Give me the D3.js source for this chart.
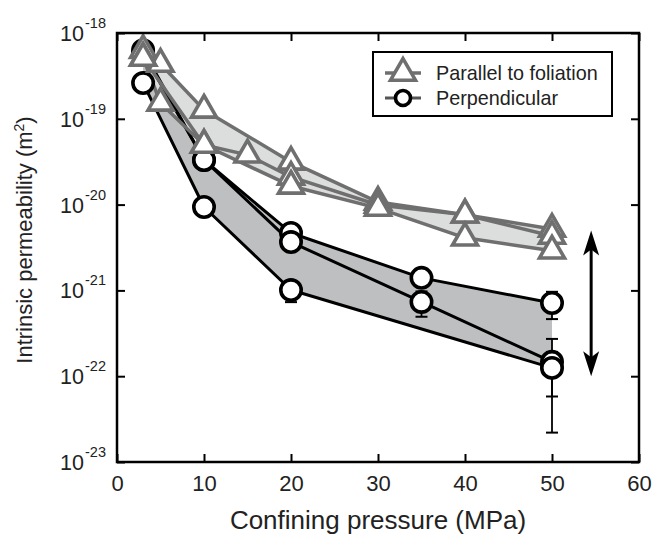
<!DOCTYPE html>
<html><head><meta charset="utf-8">
<script src="https://cdn.jsdelivr.net/npm/d3@7"></script>
<style>body{margin:0;background:#fff}text{font-family:"Liberation Sans",Arial,sans-serif}</style>
</head><body><svg id="c" width="656" height="536"></svg>
<script>
// Parallel to foliation (three runs)
const parA_x = [3, 5, 10, 20, 30, 40, 50];
const parA_k = [6.3e-19, 4.35e-19, 1.27e-19, 3.14e-20, 1.07e-20, 7.6e-21, 5.2e-21];
const parB_x = [3, 10, 15, 20, 30, 40, 50];
const parB_k = [5.1e-19, 4.95e-20, 3.8e-20, 2.1e-20, 9.9e-21, 7.6e-21, 4.3e-21];
const parC_x = [3, 5, 10, 20, 30, 40, 50];
const parC_k = [5.1e-19, 1.53e-19, 4.95e-20, 1.65e-20, 9.1e-21, 4.1e-21, 2.9e-21];
// Perpendicular (three runs)
const perA_x = [3, 10, 20, 35, 50];
const perA_k = [6.3e-19, 3.31e-20, 4.67e-21, 1.40e-21, 7.13e-22];
const perB_x = [3, 10, 20, 35, 50];
const perB_k = [5.85e-19, 3.31e-20, 3.66e-21, 7.33e-22, 1.47e-22];
const perC_x = [3, 10, 20, 50];
const perC_k = [2.61e-19, 9.38e-21, 1.01e-21, 1.25e-22];
// error bars (value ± sigma, linear)
const err_x = [50, 35, 50, 50, 20];
const err_k = [7.13e-22, 7.33e-22, 1.47e-22, 1.25e-22, 1.01e-21];
const err_s = [2.5e-22, 2.4e-22, 1.25e-22, 6.7e-23, 2.8e-22];
// ticks
const xTicks = [0, 10, 20, 30, 40, 50, 60];
const yExp = [-18, -19, -20, -21, -22, -23];
// arrow (range indicator)
const arrow_x = 54.5, arrow_k = [5.0e-21, 1.0e-22];

const svg = d3.select("#c");
const L = 117, R = 639, T = 33, B = 462;
const x = d3.scaleLinear().domain([0, 60]).range([L, R]);
const y = d3.scaleLog().domain([1e-23, 1e-18]).range([B, T]);

const zip = (xs, ks) => xs.map((v, i) => [v, ks[i]]);
const line = d3.line().x(d => x(d[0])).y(d => y(d[1]));
const parA = zip(parA_x, parA_k), parB = zip(parB_x, parB_k), parC = zip(parC_x, parC_k);
const perA = zip(perA_x, perA_k), perB = zip(perB_x, perB_k), perC = zip(perC_x, perC_k);

// fills
const band = (up, lo) => line(up.concat(lo.slice().reverse())) + "Z";
svg.append("path").attr("d", band(perA, perC)).attr("fill", "#bebfc0");
svg.append("path").attr("d", band(parA, parC)).attr("fill", "#dcdddd");

const gray = "#6f6f6f";
// perpendicular lines
[perA, perB, perC].forEach(s => svg.append("path").attr("d", line(s))
  .attr("fill", "none").attr("stroke", "#000").attr("stroke-width", 3).attr("stroke-linejoin", "round"));
// error bars
err_x.forEach((xv, i) => {
  const hi = y(err_k[i] + err_s[i]), lo = y(err_k[i] - err_s[i]), cx = x(xv);
  svg.append("line").attr("x1", cx).attr("x2", cx).attr("y1", hi).attr("y2", lo).attr("stroke", "#000").attr("stroke-width", 1.8);
  [hi, lo].forEach(yy => svg.append("line").attr("x1", cx - 6).attr("x2", cx + 6).attr("y1", yy).attr("y2", yy).attr("stroke", "#000").attr("stroke-width", 2));
});
// parallel lines
[parA, parB, parC].forEach(s => svg.append("path").attr("d", line(s))
  .attr("fill", "none").attr("stroke", gray).attr("stroke-width", 3.5).attr("stroke-linejoin", "round"));
// circle markers
[perA, perB, perC].forEach(s => s.forEach(d => svg.append("circle")
  .attr("cx", x(d[0])).attr("cy", y(d[1])).attr("r", 10.2)
  .attr("fill", "#fff").attr("stroke", "#000").attr("stroke-width", 3.6)));
// triangle markers
const tri = d3.symbol().type(d3.symbolTriangle).size(270);
[parA, parB, parC].forEach(s => s.forEach(d => svg.append("path").attr("d", tri())
  .attr("transform", `translate(${x(d[0])},${y(d[1])})`)
  .attr("fill", "#fff").attr("stroke", gray).attr("stroke-width", 3.6)));

// arrow
const ax = x(arrow_x), ay1 = y(arrow_k[0]), ay2 = y(arrow_k[1]);
svg.append("line").attr("x1", ax).attr("x2", ax).attr("y1", ay1 + 15).attr("y2", ay2 - 15).attr("stroke", "#000").attr("stroke-width", 3);
svg.append("path").attr("d", `M${ax},${ay1} L${ax - 8},${ay1 + 25} L${ax},${ay1 + 19} L${ax + 8},${ay1 + 25}Z`).attr("fill", "#000");
svg.append("path").attr("d", `M${ax},${ay2} L${ax - 8},${ay2 - 25} L${ax},${ay2 - 19} L${ax + 8},${ay2 - 25}Z`).attr("fill", "#000");

// frame & ticks
const tk = 8;
svg.append("g").attr("transform", `translate(0,${B})`)
  .call(d3.axisBottom(x).tickValues(xTicks).tickSize(-tk).tickPadding(13).tickFormat(d3.format("d")))
  .call(g => g.select(".domain").remove())
  .call(g => g.selectAll("line").attr("stroke-width", 2))
  .call(g => g.selectAll("text").attr("font-size", 22).attr("fill", "#222"));
svg.append("g").attr("transform", `translate(0,${T})`)
  .call(d3.axisTop(x).tickValues(xTicks).tickSize(-tk).tickFormat(""))
  .call(g => g.select(".domain").remove())
  .call(g => g.selectAll("line").attr("stroke-width", 2));
const yv = yExp.map(e => Math.pow(10, e));
svg.append("g").attr("transform", `translate(${L},0)`)
  .call(d3.axisLeft(y).tickValues(yv).tickSize(-tk).tickFormat(""))
  .call(g => g.select(".domain").remove())
  .call(g => g.selectAll("line").attr("stroke-width", 2));
svg.append("g").attr("transform", `translate(${R},0)`)
  .call(d3.axisRight(y).tickValues(yv).tickSize(-tk).tickFormat(""))
  .call(g => g.select(".domain").remove())
  .call(g => g.selectAll("line").attr("stroke-width", 2));
svg.append("rect").attr("x", L).attr("y", T).attr("width", R - L).attr("height", B - T)
  .attr("fill", "none").attr("stroke", "#000").attr("stroke-width", 2.5);

// y tick labels
yExp.forEach(e => {
  svg.append("text").attr("x", 84).attr("y", y(Math.pow(10, e)) + 8)
    .attr("text-anchor", "end").attr("font-size", 21.5).attr("fill", "#222").text("10");
  svg.append("text").attr("x", 85).attr("y", y(Math.pow(10, e)) - 5)
    .attr("font-size", 14.5).attr("fill", "#222").text(String(e));
});

// axis titles
svg.append("text").attr("x", (L + R) / 2).attr("y", 529).attr("text-anchor", "middle")
  .attr("font-size", 26).attr("fill", "#222").text("Confining pressure (MPa)");
const yt = svg.append("text").attr("transform", `translate(32,${240}) rotate(-90)`).attr("text-anchor", "middle")
  .attr("font-size", 22).attr("fill", "#222");
yt.append("tspan").text("Intrinsic permeability (m");
yt.append("tspan").attr("dy", -8).attr("font-size", 14).text("2");
yt.append("tspan").attr("dy", 8).text(")");

// legend
const lg = svg.append("g");
lg.append("rect").attr("x", 373).attr("y", 52).attr("width", 239).attr("height", 64)
  .attr("fill", "#fff").attr("stroke", "#000").attr("stroke-width", 2);
lg.append("line").attr("x1", 385).attr("x2", 421).attr("y1", 73).attr("y2", 73).attr("stroke", gray).attr("stroke-width", 3.5);
lg.append("path").attr("d", tri()).attr("transform", "translate(403,73)")
  .attr("fill", "#fff").attr("stroke", gray).attr("stroke-width", 3.6);
lg.append("line").attr("x1", 385).attr("x2", 421).attr("y1", 98).attr("y2", 98).attr("stroke", "#555").attr("stroke-width", 3);
lg.append("circle").attr("cx", 403).attr("cy", 98).attr("r", 7.5).attr("fill", "#fff").attr("stroke", "#000").attr("stroke-width", 3.6);
lg.append("text").attr("x", 436).attr("y", 80).attr("font-size", 19.8).attr("fill", "#222").text("Parallel to foliation");
lg.append("text").attr("x", 436).attr("y", 105).attr("font-size", 19.8).attr("fill", "#222").text("Perpendicular");
</script></body></html>
